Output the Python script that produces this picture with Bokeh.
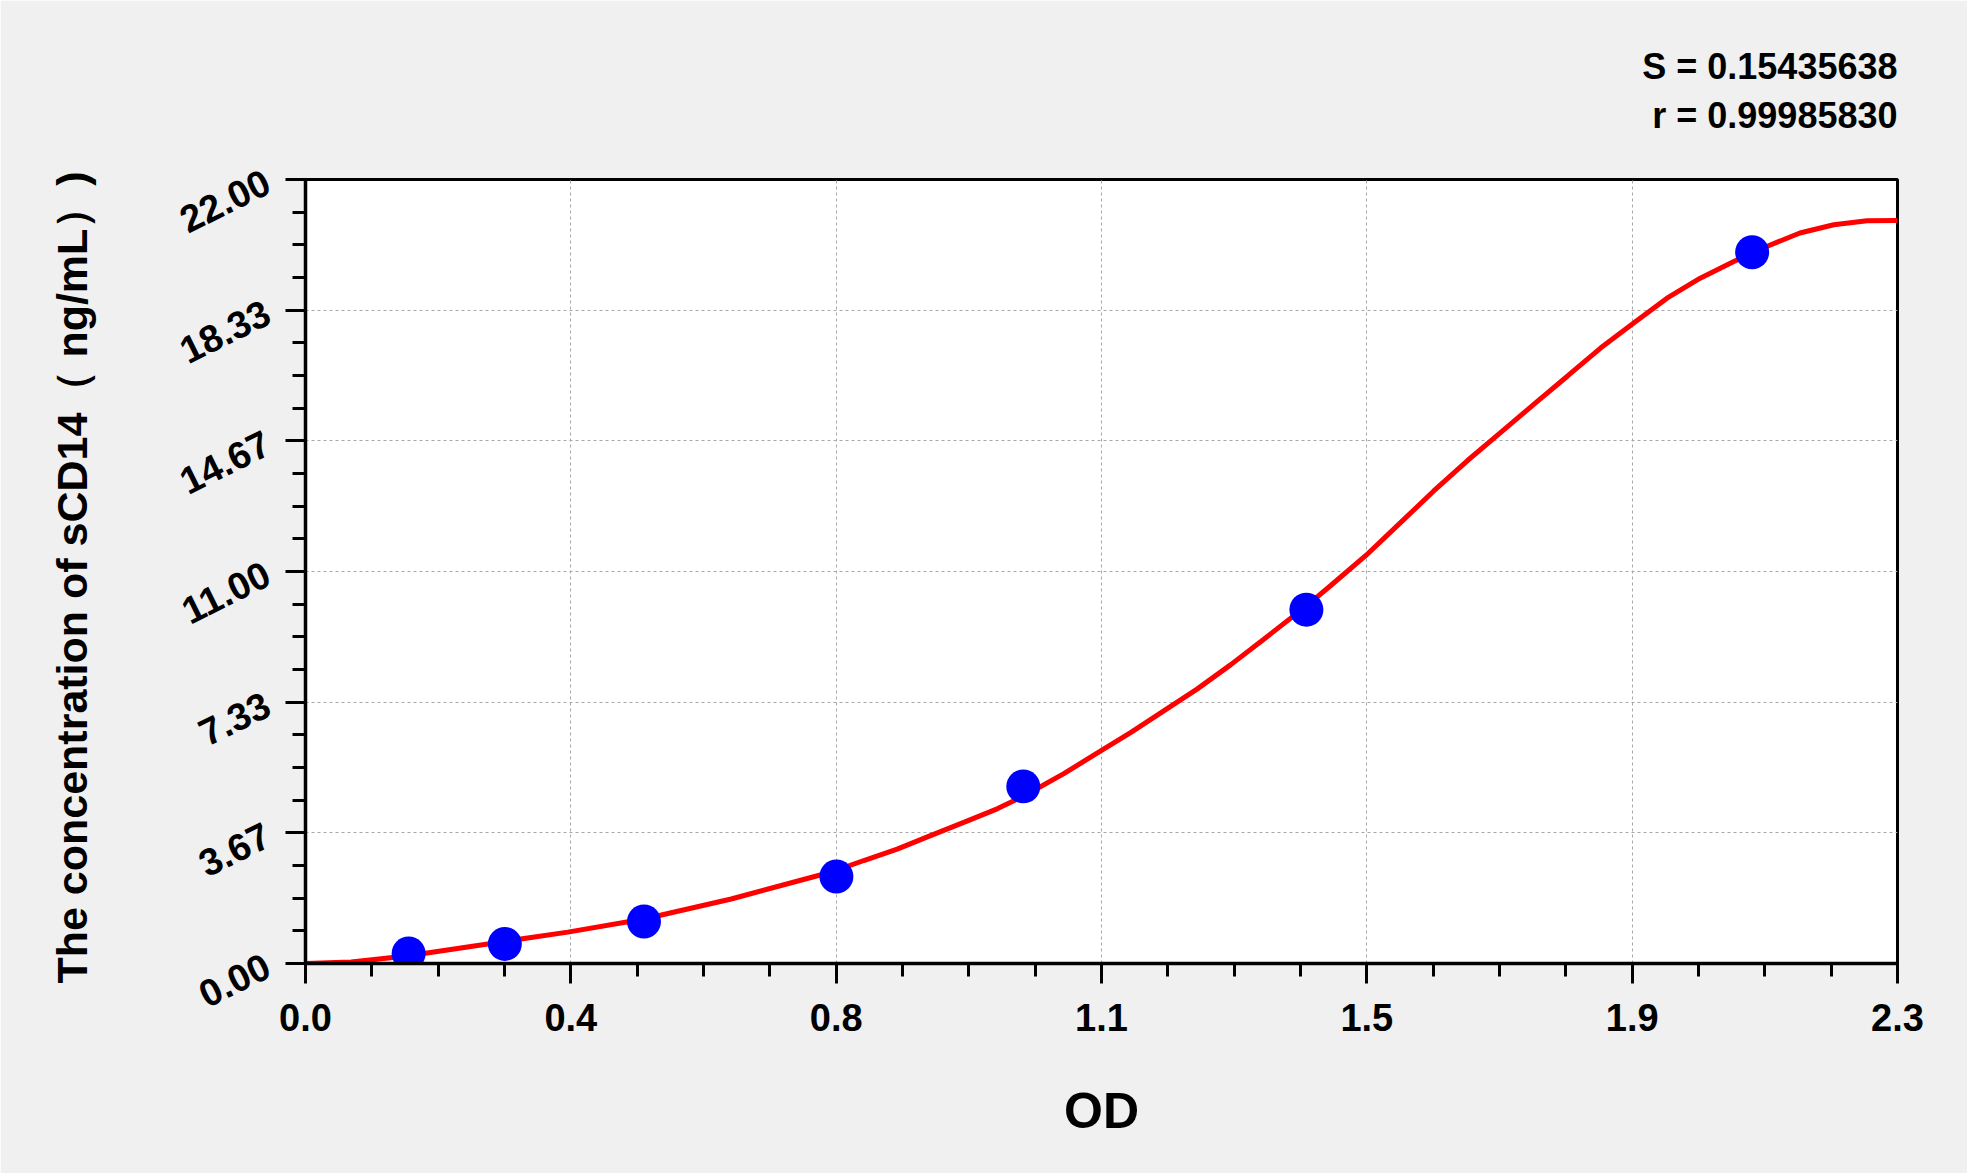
from bokeh.plotting import figure
from bokeh.models import Range1d, FixedTicker, Title
from bokeh.embed import file_html
from bokeh.resources import INLINE

# Standard points (OD vs concentration)
od_points = [0.149, 0.288, 0.489, 0.767, 1.037, 1.446, 2.090]
conc_points = [0.28, 0.55, 1.18, 2.44, 4.97, 9.93, 19.96]

# Fitted curve
curve_od = [0.0, 0.066, 0.149, 0.2875, 0.379, 0.489, 0.615, 0.7585, 0.8066, 0.8548,
            0.903, 0.951, 0.9993, 1.0378, 1.0956, 1.1477, 1.192, 1.240, 1.288, 1.3364,
            1.3845, 1.447, 1.4808, 1.532, 1.582, 1.630, 1.678, 1.726, 1.7745, 1.823,
            1.871, 1.916, 1.967, 2.015, 2.0635, 2.111, 2.159, 2.208, 2.256, 2.300]
curve_conc = [0.0, 0.04, 0.22, 0.62, 0.88, 1.25, 1.81, 2.56, 2.89, 3.21,
              3.59, 3.96, 4.34, 4.70, 5.33, 5.95, 6.48, 7.09, 7.70, 8.38,
              9.10, 10.05, 10.60, 11.45, 12.37, 13.26, 14.10, 14.89, 15.69, 16.48,
              17.27, 17.93, 18.67, 19.23, 19.70, 20.12, 20.50, 20.73, 20.84, 20.85]

x_ticks = [0.0, 0.38333, 0.76667, 1.15, 1.53333, 1.91667, 2.3]
x_tick_labels = ["0.0", "0.4", "0.8", "1.1", "1.5", "1.9", "2.3"]
y_ticks = [0.0, 3.66667, 7.33333, 11.0, 14.66667, 18.33333, 22.0]
y_tick_labels = ["0.00", "3.67", "7.33", "11.00", "14.67", "18.33", "22.00"]

stat_lines = ["S = 0.15435638", "r = 0.99985830"]

FONT = "Liberation Sans"

p = figure(width=1967, height=1173, output_backend="svg", toolbar_location=None,
           x_range=Range1d(0, 2.3), y_range=Range1d(0, 22),
           min_border_left=305, min_border_right=70,
           min_border_top=178, min_border_bottom=210)

p.border_fill_color = "#f0f0f0"
p.background_fill_color = "white"
p.outline_line_color = "black"
p.outline_line_width = 3

x_minor = [x_ticks[-1] * k / 24 for k in range(25)]
y_minor = [y_ticks[-1] * k / 24 for k in range(25)]
p.xaxis.ticker = FixedTicker(ticks=x_ticks, minor_ticks=x_minor)
p.yaxis.ticker = FixedTicker(ticks=y_ticks, minor_ticks=y_minor)
p.xaxis.major_label_overrides = {t: l for t, l in zip(x_ticks, x_tick_labels)}
p.yaxis.major_label_overrides = {t: l for t, l in zip(y_ticks, y_tick_labels)}

for ax in (p.xaxis, p.yaxis):
    ax.axis_line_width = 3.5
    ax.axis_line_color = "black"
    ax.major_tick_line_width = 3
    ax.minor_tick_line_width = 3
    ax.major_tick_in = 0
    ax.minor_tick_in = 0
    ax.major_tick_out = 20
    ax.minor_tick_out = 13
    ax.major_label_text_font = FONT
    ax.major_label_text_font_style = "bold"
    ax.major_label_text_color = "black"
    ax.axis_label_text_font = FONT
    ax.axis_label_text_font_style = "bold"
    ax.axis_label_text_color = "black"

p.xaxis.major_label_text_font_size = "38px"
p.xaxis.major_label_standoff = 20
p.xaxis.axis_label = "OD"
p.xaxis.axis_label_text_font_size = "50px"
p.xaxis.axis_label_standoff = 49

p.yaxis.major_label_text_font_size = "38px"
p.yaxis.major_label_orientation = 0.46
p.yaxis.major_label_standoff = 18
p.yaxis.axis_label = "The concentration of  sCD14（ ng/mL）)"
p.yaxis.axis_label_text_font_size = "43px"
p.yaxis.axis_label_standoff = 71

p.xgrid.grid_line_color = "#a8a8a8"
p.ygrid.grid_line_color = "#a8a8a8"
p.xgrid.grid_line_dash = "3 3"
p.ygrid.grid_line_dash = "3 3"
p.xgrid.grid_line_width = 1
p.ygrid.grid_line_width = 1

p.line(curve_od, curve_conc, line_color="#ff0000", line_width=5)
p.scatter(od_points, conc_points, size=34, fill_color="#0000ff", line_color=None)

# statistics shown above the frame, right aligned, two lines
# (a no-break space before the second line keeps both lines flush right)
stats = Title(text=stat_lines[0] + "\n\u00a0" + stat_lines[1], align="right",
              vertical_align="bottom", standoff=87, text_font=FONT,
              text_font_style="bold", text_font_size="36px",
              text_line_height=1.2, text_color="black")
p.add_layout(stats, "above")

open("out.html", "w").write(file_html(p, INLINE))
